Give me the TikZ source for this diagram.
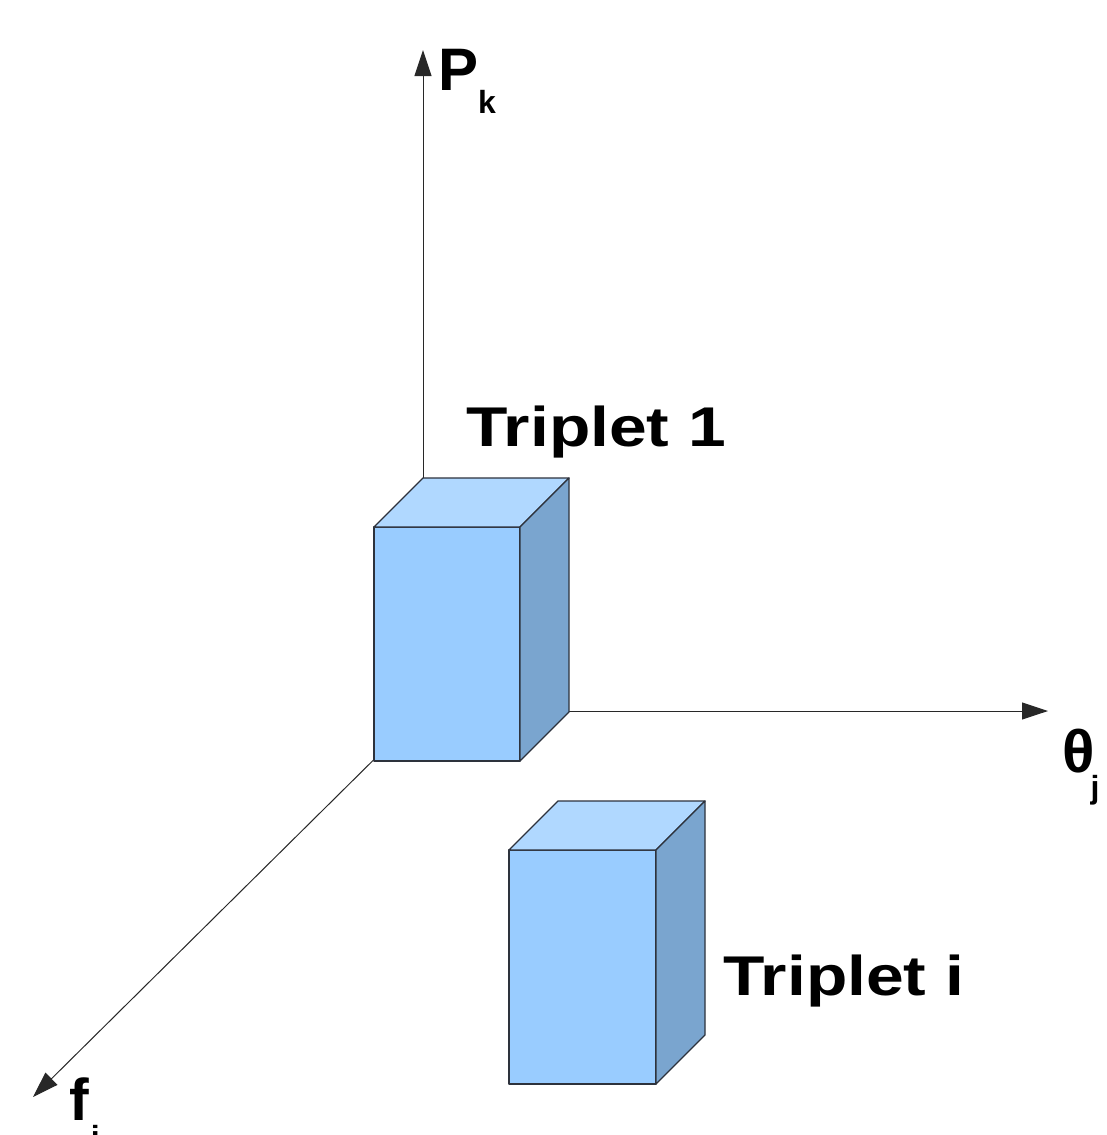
\documentclass[tikz,border=0pt]{standalone}
\usepackage{fontspec}
\usepackage{graphicx}
\setmainfont{Liberation Sans}
\usetikzlibrary{arrows.meta}
\definecolor{frontc}{RGB}{153,204,255}
\definecolor{topc}{RGB}{176,216,255}
\definecolor{sidec}{RGB}{122,165,207}
\definecolor{edgec}{RGB}{45,50,60}
\definecolor{axisc}{RGB}{40,40,40}
\tikzset{
  axis/.style={draw=axisc, line width=1pt, -{Triangle[length=26pt,width=17pt]}},
  face/.style={draw=edgec, line width=1.3pt, line join=round},
  biglabel/.style={anchor=base west, inner sep=0pt, font=\bfseries\fontsize{60}{60}\selectfont},
  triplabel/.style={anchor=base west, inner sep=0pt, font=\bfseries\fontsize{56}{56}\selectfont},
  pics/cuboid/.style={code={
    \fill[face, fill=frontc] (0,0) rectangle (#1,234);
    \fill[face, fill=topc] (0,0) -- (49,-49) -- (#1+49,-49) -- (#1,0) -- cycle;
    \fill[face, fill=sidec] (#1,0) -- (#1+49,-49) -- (#1+49,185) -- (#1,234) -- cycle;
  }}
}
\newcommand{\subsc}[2]{\raisebox{-#1pt}{\fontsize{32}{32}\selectfont #2}}
\begin{document}
\begin{tikzpicture}[x=1pt,y=-1pt]
\useasboundingbox (0,0) rectangle (1106,1135);
\fill[white] (0,0) rectangle (1106,1135);
% axes
\coordinate (O) at (423,711);
\coordinate (Ptip) at (423,50);
\coordinate (Ttip) at (1048,711);
\coordinate (Ftip) at (33,1097);
\draw[axis] (O) -- (Ptip);
\draw[axis] (O) -- (Ttip);
\draw[axis] (O) -- (Ftip);
% boxes
\pic at (374,527) {cuboid=146};
\pic at (509,850) {cuboid=147};
% labels
\node[biglabel] (pk) at (438,90) {P\subsc{23}{k}};
\node[biglabel] (tj) at (1062,772) {θ\kern-4pt\subsc{26}{j}};
\node[biglabel, font=\bfseries\fontsize{59}{59}\selectfont] (fi) at (69,1120) {f\kern2pt\subsc{28}{i}};
\node[triplabel] (t1) at (466,446) {\scalebox{1.21}[1]{Triplet 1}};
\node[triplabel] (ti) at (723,995) {\scalebox{1.21}[1]{Triplet i}};
\end{tikzpicture}
\end{document}
